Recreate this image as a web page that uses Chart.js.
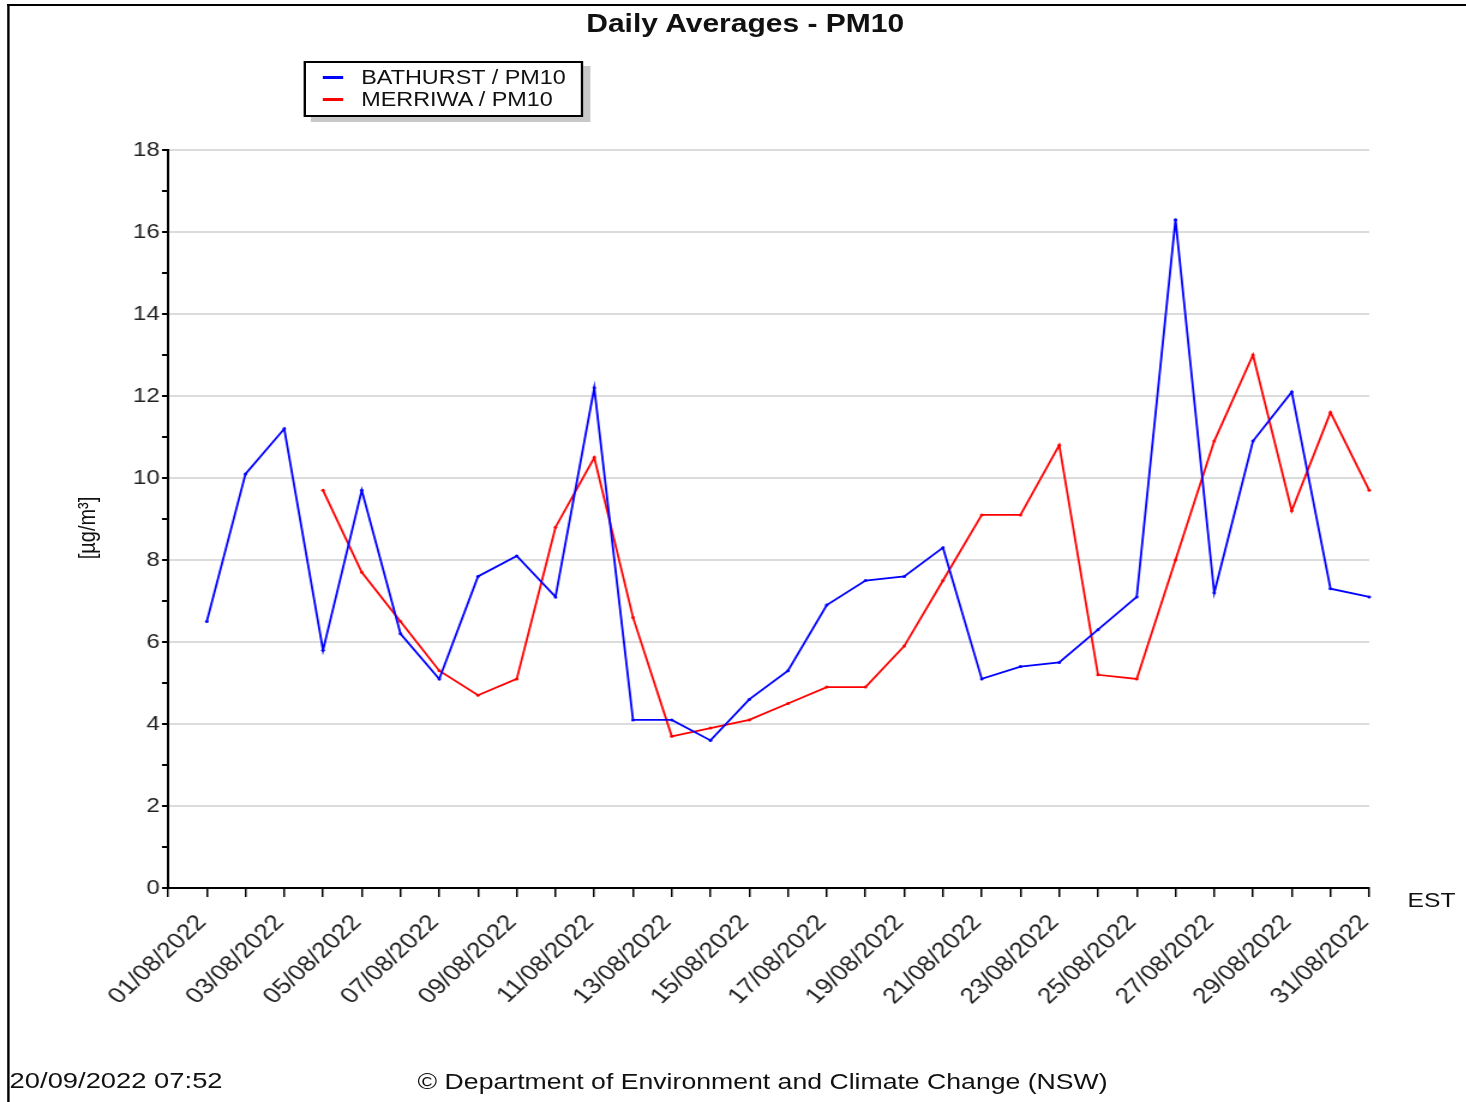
<!DOCTYPE html>
<html>
<head>
<meta charset="utf-8">
<script src="https://cdn.jsdelivr.net/npm/chart.js@4.4.1/dist/chart.umd.min.js"></script>
<style>
  body { margin: 0; background: #fff; font-family: "Liberation Sans", Arial, sans-serif; }
  #outer { position: relative; width: 1466px; height: 1102px; overflow: hidden; }
  /* the whole picture is drawn narrow and stretched sideways, like the original image */
  #wrap { position: absolute; left: 0; top: 0; width: 1222px; height: 1102px;
          transform: scaleX(1.2); transform-origin: 0 0; }
  #frame { position: absolute; left: 6px; top: 4px; width: 1230px; height: 1110px;
           border-left: 2px solid #000; border-top: 2px solid #000; }
  canvas { position: absolute; left: 0; top: 0; }
  .txt { position: absolute; color: #111; white-space: nowrap; }
  #title { left: 0; width: 1242px; top: 9px; text-align: center; font-weight: bold; font-size: 25px; }
  #ytitle { left: 73px; top: 528px; font-size: 20px; transform: translate(-50%, -50%) rotate(-90deg); }
  #est { left: 1173px; top: 888px; font-size: 20.5px; }
  #stamp { left: 8px; top: 1067px; font-size: 22.8px; }
  #copy { left: 348px; top: 1069px; font-size: 22.2px; }
  #legend { position: absolute; left: 253px; top: 61px; width: 229px; height: 52px;
            border: 2px solid #000; background: #fff; box-shadow: 6px 5px 0 #c8c8c8; }
  .item { position: absolute; left: 0; width: 229px; height: 22px; font-size: 19.5px; white-space: nowrap; }
  .item span.sw { position: absolute; left: 14px; top: 11px; width: 17px; height: 3px; }
  .item span.lb { position: absolute; left: 46px; top: 1px; color: #111; }
</style>
</head>
<body>
<div id="outer">
<div id="wrap">
  <canvas id="chart" width="1222" height="1102"></canvas>
  <div id="frame"></div>
  <div class="txt" id="title">Daily Averages - PM10</div>
  <div class="txt" id="ytitle">[µg/m³]</div>
  <div class="txt" id="est">EST</div>
  <div class="txt" id="stamp">20/09/2022 07:52</div>
  <div class="txt" id="copy">© Department of Environment and Climate Change (NSW)</div>
  <div id="legend"></div>
</div>
</div>
<script>
const dates = [
    '01/08/2022', '02/08/2022', '03/08/2022', '04/08/2022', '05/08/2022', '06/08/2022',
    '07/08/2022', '08/08/2022', '09/08/2022', '10/08/2022', '11/08/2022', '12/08/2022',
    '13/08/2022', '14/08/2022', '15/08/2022', '16/08/2022', '17/08/2022', '18/08/2022',
    '19/08/2022', '20/08/2022', '21/08/2022', '22/08/2022', '23/08/2022', '24/08/2022',
    '25/08/2022', '26/08/2022', '27/08/2022', '28/08/2022', '29/08/2022', '30/08/2022',
    '31/08/2022'
];
const bathurst = [6.5, 10.1, 11.2, 5.8, 9.7, 6.2, 5.1, 7.6, 8.1, 7.1, 12.2, 4.1, 4.1, 3.6, 4.6, 5.3,
    6.9, 7.5, 7.6, 8.3, 5.1, 5.4, 5.5, 6.3, 7.1, 16.3, 7.2, 10.9, 12.1, 7.3, 7.1];
const merriwa = [null, null, null, 9.7, 7.7, 6.5, 5.3, 4.7, 5.1, 8.8, 10.5, 6.6, 3.7, 3.9, 4.1, 4.5,
    4.9, 4.9, 5.9, 7.5, 9.1, 9.1, 10.8, 5.2, 5.1, 8.0, 10.9, 13.0, 9.2, 11.6, 9.7];
const yTicks = [0, 2, 4, 6, 8, 10, 12, 14, 16, 18];

// first slot is the empty day before 01/08 where the y axis sits
const labels = [''].concat(dates);

const series = [
    { label: 'BATHURST / PM10', color: '#0000ff', values: bathurst },
    { label: 'MERRIWA / PM10', color: '#ff0000', values: merriwa },
];

const config = {
    type: 'line',
    data: {
        labels: labels,
        datasets: series.map(s => ({
            label: s.label,
            data: [null].concat(s.values),
            borderColor: s.color,
            backgroundColor: s.color,
            borderWidth: 1.8,
            pointRadius: 1.5,
            pointBorderWidth: 0,
            tension: 0,
        }))
    },
    options: {
        responsive: false,
        animation: false,
        layout: { padding: { left: 40, right: 81, top: 150, bottom: 0 } },
        plugins: {
            legend: { display: false },
            title: { display: false },
            tooltip: { enabled: false },
        },
        scales: {
            x: {
                type: 'category',
                offset: false,
                afterFit: function (scale) { scale.height = 214; },
                border: { color: '#000', width: 2 },
                grid: {
                    drawOnChartArea: false,
                    tickLength: 9,
                    tickColor: '#000',
                    lineWidth: 1.5,
                },
                ticks: {
                    autoSkip: false,
                    maxRotation: 48,
                    minRotation: 48,
                    padding: 13,
                    labelOffset: -4,
                    color: '#222',
                    font: { family: 'Liberation Sans', size: 22 },
                    callback: function (v, i) {
                        return i % 2 === 1 ? labels[i] : '';
                    },
                },
            },
            y: {
                min: 0,
                max: 18,
                afterFit: function (scale) { scale.width = 100; },
                border: { color: '#000', width: 2 },
                grid: {
                    tickLength: 5,
                    lineWidth: 2,
                    color: c => (c.tick && yTicks.includes(c.tick.value)) ? '#dcdcdc' : 'rgba(0,0,0,0)',
                    tickColor: '#000',
                },
                ticks: {
                    stepSize: 1,
                    padding: 2,
                    color: '#222',
                    font: { family: 'Liberation Sans', size: 20 },
                    callback: v => yTicks.includes(v) ? String(v) : '',
                },
            },
        },
    },
};

const legend = document.getElementById('legend');
series.forEach((s, i) => {
    const row = document.createElement('div');
    row.className = 'item';
    row.style.top = (2 + i * 22) + 'px';
    row.innerHTML = '<span class="sw" style="background:' + s.color + '"></span><span class="lb">' + s.label + '</span>';
    legend.appendChild(row);
});

window.addEventListener('load', function () {
    new Chart(document.getElementById('chart'), config);
});
</script>
</body>
</html>
